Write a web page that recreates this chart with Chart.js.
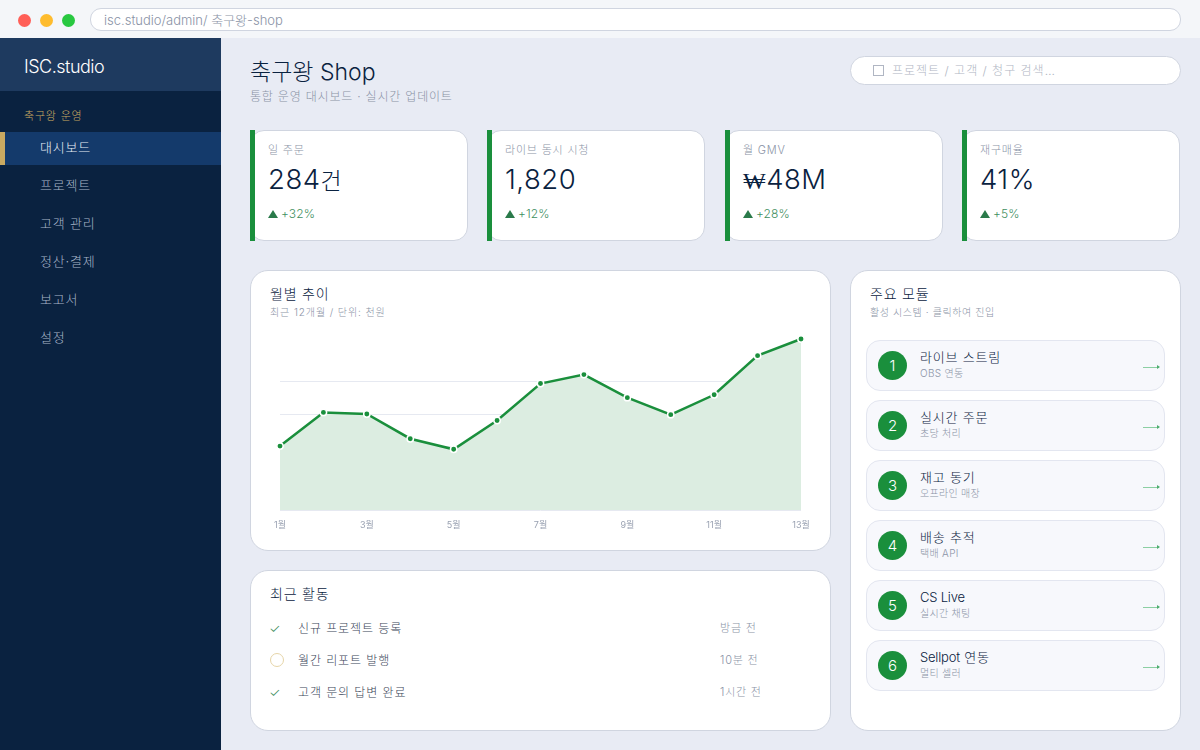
<!DOCTYPE html>
<html lang="ko">
<head>
<meta charset="utf-8">
<title>축구왕 Shop</title>
<script src="https://cdn.jsdelivr.net/npm/chart.js@4"></script>
<style>
* { box-sizing: border-box; margin: 0; padding: 0; }
html, body { width: 1200px; height: 750px; overflow: hidden; }
body { position: relative; background: #e8ebf4; font-family: Inter, "Noto Sans CJK KR", sans-serif; font-weight: 300; color: #0a2240; }
.abs, .abs-t { position: absolute; white-space: nowrap; }
.abs-t { line-height: 20px; margin-top: -10px; }
#topbar { left: 0; top: 0; width: 1200px; height: 38px; background: #f4f6f9; }
.dot { width: 13px; height: 13px; border-radius: 50%; top: 14px; }
#url { left: 90px; top: 8px; width: 1091px; height: 23px; background: #fff; border: 1px solid #d0d5e0; border-radius: 11px; }
#sidebar { left: 0; top: 38px; width: 221px; height: 712px; background: #0a2240; }
#brand { left: 0; top: 38px; width: 221px; height: 53px; background: #1e3a5f; }
#active { left: 0; top: 132px; width: 221px; height: 33px; background: #143a6b; border-left: 5px solid #c9a961; }
.nav { left: 40px; font-size: 13px; color: #a8b5c8; letter-spacing: 0.8px; }
#search { left: 850px; top: 56px; width: 331px; height: 29px; background: #fff; border: 1px solid #d0d5e0; border-radius: 15px; }
.kpi { top: 130px; width: 218px; height: 111px; background: #fff; border: 1px solid #d0d5e0; border-radius: 14px; }
.kpi i { position: absolute; left: -1px; top: -1px; width: 5px; height: 111px; background: #1a8f3c; }
.kpi-label { font-size: 11px; color: #8a93a6; letter-spacing: 0.8px; }
.kpi-value { font-size: 27.5px; font-weight: 300; color: #0a2240; letter-spacing: 0.5px; }
.kpi-delta { font-size: 12px; color: #3f8f5f; letter-spacing: 0.1px; }
.tri { width: 0; height: 0; border-left: 5px solid transparent; border-right: 5px solid transparent; border-bottom: 8px solid #2a7a4a; top: 210px; }
.panel { background: #fff; border: 1px solid #d0d5e0; border-radius: 18px; }
.h { font-size: 14px; color: #0a2240; font-weight: 300; letter-spacing: 0.8px; }
.s { font-size: 10px; color: #8a93a6; letter-spacing: 0.6px; }
.act { font-size: 12px; color: #3a4558; font-weight: 300; left: 298px; letter-spacing: 0.9px; }
.time { font-size: 11px; color: #8a93a6; left: 720px; letter-spacing: 0.8px; }
.check { left: 269px; font-size: 13px; color: #3f8f5f; }
.mod { left: 866px; width: 299px; height: 51px; background: #f7f8fc; border: 1px solid #e3e6f0; border-radius: 14px; }
.num { left: 878px; width: 29px; height: 29px; border-radius: 50%; background: #1a8f3c; color: #fff; font-size: 15px; text-align: center; line-height: 29px; }
.mod-t { left: 920px; font-size: 13px; color: #0a2240; font-weight: 300; letter-spacing: 0.8px; }
.mod-t .lat { letter-spacing: -0.2px; }
.mod-s { left: 920px; font-size: 10px; color: #8a93a6; letter-spacing: 0.3px; }
.arrow { left: 1143px; width: 16px; height: 1px; background: #8ccfa3; }
.arrow:after { content: ""; position: absolute; right: -1px; top: -2px; border-left: 3px solid #4fae70; border-top: 2.5px solid transparent; border-bottom: 2.5px solid transparent; }
#trend { position: absolute; left: 251px; top: 321px; }
.won { font-family: "DejaVu Serif", serif; font-size: 24px; }
.unit { font-size: 23px; }
</style>
</head>
<body>
<div class="abs" id="topbar"></div>
<div class="abs dot" style="left:18px;background:#ff5f57"></div>
<div class="abs dot" style="left:40px;background:#febc2e"></div>
<div class="abs dot" style="left:62px;background:#28c840"></div>
<div class="abs" id="url"></div>
<div class="abs-t" style="left:104px;top:19.5px;font-size:13px;color:#8a93a6">isc.studio/admin/ 축구왕-shop</div>

<div class="abs" id="sidebar"></div>
<div class="abs" id="brand"></div>
<div class="abs-t" style="left:24px;top:67px;font-size:18px;letter-spacing:-0.5px;color:#fff">ISC.studio</div>
<div class="abs-t" style="left:24px;top:116px;font-size:11px;color:#c9a961;letter-spacing:0.8px">축구왕 운영</div>
<div class="abs" id="active"></div>
<div class="abs-t nav" style="top:147px;color:#e8eef5">대시보드</div>
<div class="abs-t nav" style="top:185px">프로젝트</div>
<div class="abs-t nav" style="top:223px">고객 관리</div>
<div class="abs-t nav" style="top:261px">정산·결제</div>
<div class="abs-t nav" style="top:299px">보고서</div>
<div class="abs-t nav" style="top:337px">설정</div>

<div class="abs-t" style="left:250px;top:72px;font-size:23px;color:#0a2240">축구왕 Shop</div>
<div class="abs-t" style="left:250px;top:97px;font-size:12px;color:#8a93a6;letter-spacing:0.8px">통합 운영 대시보드 · 실시간 업데이트</div>
<div class="abs" id="search"></div>
<div class="abs" style="left:873px;top:65px;width:11px;height:11px;border:1px solid #b0b6c3"></div>
<div class="abs-t" style="left:892px;top:70.5px;font-size:12px;color:#b0b6c3;letter-spacing:1px">프로젝트 / 고객 / 청구 검색…</div>

<div id="kpis"></div>

<div class="abs panel" style="left:250px;top:270px;width:581px;height:281px"></div>
<div class="abs-t h" style="left:270px;top:294px">월별 추이</div>
<div class="abs-t s" style="left:270px;top:312px;letter-spacing:0.9px">최근 12개월 / 단위: 천원</div>
<canvas id="trend" width="578" height="225" style="width:578px;height:225px"></canvas>

<div class="abs panel" style="left:250px;top:570px;width:581px;height:161px"></div>
<div class="abs-t h" style="left:270px;top:594px">최근 활동</div>
<div id="activity"></div>

<div class="abs panel" style="left:850px;top:270px;width:331px;height:461px"></div>
<div class="abs-t h" style="left:870px;top:294px">주요 모듈</div>
<div class="abs-t s" style="left:870px;top:312px">활성 시스템 · 클릭하여 진입</div>
<div id="modules"></div>

<script>
const months = ['1월', '2월', '3월', '4월', '5월', '6월', '7월', '8월', '9월', '10월', '11월', '12월', '13월'];
const sales = [200, 305, 300, 223, 190, 280, 395, 423, 351, 298, 360, 482, 534];
const gridTicks = [0, 100, 200, 300, 400];

const kpiLabels = ['일 주문', '라이브 동시 시청', '월 GMV', '재구매율'];
const kpiValues = ['284<span class="unit">건</span>', '1,820', '<span class="won">₩</span>48M', '41%'];
const kpiDeltas = ['+32%', '+12%', '+28%', '+5%'];
const kpiLefts = [250, 487, 725, 962];

const activityNames = ['신규 프로젝트 등록', '월간 리포트 발행', '고객 문의 답변 완료'];
const activityTimes = ['방금 전', '10분 전', '1시간 전'];
const activityDone = [true, false, true];

const moduleNames = ['라이브 스트림', '실시간 주문', '재고 동기', '배송 추적', 'CS Live', 'Sellpot 연동'];
const moduleSubs = ['OBS 연동', '초당 처리', '오프라인 매장', '택배 API', '실시간 채팅', '멀티 셀러'];

let html = '';
kpiLabels.forEach(function(label, i) {
    const x = kpiLefts[i];
    html += `<div class="abs kpi" style="left:${x}px"><i></i></div>
        <div class="abs-t kpi-label" style="left:${x + 18}px;top:150px">${label}</div>
        <div class="abs-t kpi-value" style="left:${x + 18}px;top:179px">${kpiValues[i]}</div>
        <div class="abs tri" style="left:${x + 18}px"></div>
        <div class="abs-t kpi-delta" style="left:${x + 31}px;top:214px">${kpiDeltas[i]}</div>`;
});
document.getElementById('kpis').innerHTML = html;

html = '';
activityNames.forEach(function(name, i) {
    const y = 628 + i * 32;
    html += activityDone[i]
        ? `<div class="abs-t check" style="top:${y}px">✓</div>`
        : `<div class="abs" style="left:270px;top:${y - 7}px;width:14px;height:14px;border-radius:50%;border:1px solid #e6d5a8"></div>`;
    html += `<div class="abs-t act" style="top:${y + 1}px">${name}</div>
        <div class="abs-t time" style="top:${y}px">${activityTimes[i]}</div>`;
});
document.getElementById('activity').innerHTML = html;

html = '';
moduleNames.forEach(function(name, i) {
    const y = 340 + i * 60;
    // latin words sit tighter than the hangul in the reference
    const title = name.replace(/[A-Za-z]+( [A-Za-z]+)*/g, '<span class="lat">$&</span>');
    html += `<div class="abs mod" style="top:${y}px"></div>
        <div class="abs num" style="top:${y + 11}px">${i + 1}</div>
        <div class="abs-t mod-t" style="top:${y + 17}px">${title}</div>
        <div class="abs-t mod-s" style="top:${y + 33}px">${moduleSubs[i]}</div>
        <div class="abs arrow" style="top:${y + 27}px"></div>`;
});
document.getElementById('modules').innerHTML = html;

new Chart(document.getElementById('trend').getContext('2d'), {
    type: 'line',
    data: {
        labels: months,
        datasets: [{
            data: sales,
            borderColor: '#1a8f3c',
            borderWidth: 2.5,
            backgroundColor: '#dcede1',
            fill: 'origin',
            tension: 0,
            clip: false,
            pointRadius: 3.2,
            pointBorderWidth: 1.5,
            pointBackgroundColor: '#1a8f3c',
            pointBorderColor: '#ffffff'
        }]
    },
    options: {
        responsive: false,
        animation: false,
        devicePixelRatio: 1,
        layout: { padding: { left: 29, right: 28, top: 18, bottom: 13 } },
        plugins: { legend: { display: false }, tooltip: { enabled: false } },
        scales: {
            x: {
                grid: { display: false },
                border: { display: false },
                offset: false,
                ticks: {
                    autoSkip: false,
                    maxRotation: 0,
                    padding: 2,
                    color: '#9aa2b2',
                    font: { size: 9, family: 'Inter, "Noto Sans CJK KR"' },
                    callback: function(value, index) {
                        return index % 2 === 0 ? months[index] : '';
                    }
                }
            },
            y: {
                min: 0,
                max: 534,
                border: { display: false },
                grid: { color: '#e6e9f1', lineWidth: 1, drawTicks: false },
                ticks: { display: false },
                afterBuildTicks: function(scale) {
                    scale.ticks = gridTicks.map(function(v) { return { value: v }; });
                }
            }
        }
    }
});
</script>
</body>
</html>
